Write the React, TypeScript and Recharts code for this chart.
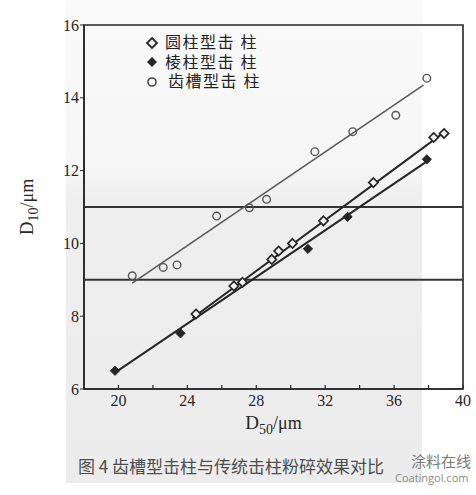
import { ScatterChart, Scatter, XAxis, YAxis, ReferenceLine, ReferenceArea, Legend, Label } from 'recharts'

// 圆柱型击柱 (open diamonds)
const roundX = [24.5, 26.7, 27.2, 28.9, 29.3, 30.1, 31.9, 34.8, 38.3, 38.9]
const roundY = [8.06, 8.83, 8.93, 9.56, 9.79, 10.0, 10.62, 11.67, 12.91, 13.02]
// 棱柱型击柱 (filled diamonds)
const prismX = [19.8, 23.6, 31.0, 33.3, 37.9]
const prismY = [6.5, 7.53, 9.85, 10.73, 12.31]
// 齿槽型击柱 (open circles)
const grooveX = [20.8, 22.6, 23.4, 25.7, 27.6, 28.6, 31.4, 33.6, 36.1, 37.9]
const grooveY = [9.11, 9.34, 9.41, 10.75, 10.98, 11.21, 12.52, 13.07, 13.52, 14.54]

// fitted lines, end points
const roundFitX = [24.3, 38.9]
const roundFitY = [7.95, 13.05]
const prismFitX = [19.8, 37.8]
const prismFitY = [6.45, 12.22]
const grooveFitX = [20.8, 37.7]
const grooveFitY = [8.91, 14.35]

const refLevels = [9, 11]
const xTicks = [20, 22, 24, 26, 28, 30, 32, 34, 36, 38, 40]
const yTicks = [6, 8, 10, 12, 14, 16]
const legendNames = ['圆柱型击 柱', '棱柱型击 柱', '齿槽型击 柱']

const toPoints = (xs: number[], ys: number[]) => xs.map((x, i) => ({ x, y: ys[i] }))

const INK = '#262626'
const SERIF = '"Liberation Serif", "DejaVu Serif", serif'
const CJK = '"Noto Sans CJK SC", sans-serif'
const SERIF_CJK = '"Liberation Serif", "Noto Sans CJK SC", serif'

function diamond(cx: number, cy: number, r: number) {
  return `${cx},${cy - r} ${cx + r},${cy} ${cx},${cy + r} ${cx - r},${cy}`
}

// eslint-disable-next-line @typescript-eslint/no-explicit-any
const OpenDiamond = ({ cx, cy }: any) => (
  <polygon points={diamond(cx, cy, 4.6)} fill="#f2f2f2" stroke={INK} strokeWidth={1.7} />
)
// eslint-disable-next-line @typescript-eslint/no-explicit-any
const FilledDiamond = ({ cx, cy }: any) => (
  <polygon points={diamond(cx, cy, 4.6)} fill={INK} stroke={INK} strokeWidth={1} />
)
// eslint-disable-next-line @typescript-eslint/no-explicit-any
const OpenCircle = ({ cx, cy }: any) => (
  <circle cx={cx} cy={cy} r={3.8} fill="none" stroke="#555" strokeWidth={1.4} />
)
const NoDot = () => <g />

// eslint-disable-next-line @typescript-eslint/no-explicit-any
function XTick({ x, y, payload }: any) {
  const axisY = y - 2
  const v = payload.value
  return (
    <g>
      <line x1={x} x2={x} y1={axisY} y2={axisY - 4} stroke={INK} strokeWidth={1.2} />
      {v % 4 === 0 && (
        <text x={x} y={axisY + 17} textAnchor="middle" fontFamily={SERIF} fontSize={16} fill={INK}>
          {v}
        </text>
      )}
    </g>
  )
}

// eslint-disable-next-line @typescript-eslint/no-explicit-any
function XTitle({ viewBox }: any) {
  const cx = viewBox.x + viewBox.width / 2
  return (
    <text x={cx} y={viewBox.y + 40} textAnchor="middle" fontFamily={SERIF} fontSize={19} fill={INK}>
      D<tspan fontSize={14} dy={5}>50</tspan>
      <tspan dy={-5} fontSize={18}>/μm</tspan>
    </text>
  )
}

// eslint-disable-next-line @typescript-eslint/no-explicit-any
function YTitle({ viewBox }: any) {
  const cx = 33
  const cy = viewBox.y + viewBox.height / 2
  return (
    <text
      x={cx}
      y={cy}
      transform={`rotate(-90 ${cx} ${cy})`}
      textAnchor="middle"
      fontFamily={SERIF}
      fontSize={19}
      fill={INK}
    >
      D<tspan fontSize={14} dy={5}>10</tspan>
      <tspan dy={-5} fontSize={18}>/μm</tspan>
    </text>
  )
}

function LegendBox() {
  const markers = [
    <polygon key="a" points={diamond(7, 7, 5)} fill="#f2f2f2" stroke={INK} strokeWidth={1.8} />,
    <polygon key="b" points={diamond(7, 7, 5)} fill={INK} />,
    <circle key="c" cx={7} cy={7} r={4} fill="none" stroke="#444" strokeWidth={1.6} />,
  ]
  return (
    <div style={{ fontFamily: SERIF_CJK, fontSize: 16, lineHeight: '19.5px', color: '#222' }}>
      {legendNames.map((n, i) => (
        <div key={n} style={{ display: 'flex', alignItems: 'center', height: 19.5 }}>
          <svg width={14} height={14}>{markers[i]}</svg>
          <span style={{ marginLeft: i === 2 ? 9 : 6, letterSpacing: 1.5 }}>{n}</span>
        </div>
      ))}
    </div>
  )
}

export default function App() {
  return (
    <div
      style={{
        position: 'absolute',
        left: 0,
        top: 0,
        width: 476,
        height: 495,
        background: '#ffffff',
        overflow: 'hidden',
      }}
    >
      <div
        style={{
          position: 'absolute',
          left: 66,
          top: 0,
          width: 356,
          height: 483,
          background: 'linear-gradient(#fafafa 0%, #f6f6f6 34%, #eeeeee 42%, #ececec 100%)',
        }}
      />
      <div style={{ position: 'absolute', left: 0, top: 0 }}>
        <ScatterChart width={476} height={495} margin={{ top: 25, right: 13, left: 0, bottom: 0 }}>
          <XAxis
            type="number"
            dataKey="x"
            domain={[18, 40]}
            ticks={xTicks}
            interval={0}
            allowDataOverflow
            height={106}
            tickSize={0}
            tickMargin={2}
            tick={<XTick />}
            axisLine={{ stroke: INK, strokeWidth: 1.6 }}
          >
            <Label content={<XTitle />} />
          </XAxis>
          <YAxis
            type="number"
            dataKey="y"
            domain={[6, 16]}
            ticks={yTicks}
            interval={0}
            allowDataOverflow
            width={84}
            tickSize={4}
            tickMargin={1}
            tick={{ fontFamily: SERIF, fontSize: 16, fill: INK }}
            tickLine={{ stroke: INK }}
            axisLine={{ stroke: INK, strokeWidth: 1.6 }}
          >
            <Label content={<YTitle />} />
          </YAxis>
          <ReferenceArea x1={18} x2={40} y1={6} y2={16} fill="none" stroke={INK} strokeWidth={1.6} />
          {refLevels.map((v) => (
            <ReferenceLine key={v} y={v} stroke="#333" strokeWidth={2} />
          ))}
          <Legend
            layout="horizontal"
            verticalAlign="middle"
            align="center"
            wrapperStyle={{ top: 33, left: 145, width: 'auto' }}
            content={<LegendBox />}
          />
          <Scatter
            data={toPoints(grooveFitX, grooveFitY)}
            line={{ stroke: '#5a5a5a', strokeWidth: 1.6 }}
            shape={<NoDot />}
            legendType="none"
            isAnimationActive={false}
          />
          <Scatter
            data={toPoints(prismFitX, prismFitY)}
            line={{ stroke: INK, strokeWidth: 2 }}
            shape={<NoDot />}
            legendType="none"
            isAnimationActive={false}
          />
          <Scatter
            data={toPoints(roundFitX, roundFitY)}
            line={{ stroke: INK, strokeWidth: 2 }}
            shape={<NoDot />}
            legendType="none"
            isAnimationActive={false}
          />
          <Scatter name="齿槽型击柱" data={toPoints(grooveX, grooveY)} shape={<OpenCircle />} isAnimationActive={false} />
          <Scatter name="棱柱型击柱" data={toPoints(prismX, prismY)} shape={<FilledDiamond />} isAnimationActive={false} />
          <Scatter name="圆柱型击柱" data={toPoints(roundX, roundY)} shape={<OpenDiamond />} isAnimationActive={false} />
        </ScatterChart>
      </div>
      <div
        style={{
          position: 'absolute',
          left: 78,
          top: 455,
          fontFamily: CJK,
          fontSize: 17,
          lineHeight: '22px',
          color: '#4d4d4d',
          whiteSpace: 'nowrap',
        }}
      >
        图 4 齿槽型击柱与传统击柱粉碎效果对比
      </div>
      <div
        style={{
          position: 'absolute',
          left: 411,
          top: 452,
          fontFamily: CJK,
          fontSize: 15,
          lineHeight: '18px',
          color: '#7a7a7a',
          whiteSpace: 'nowrap',
        }}
      >
        涂料在线
      </div>
      <div
        style={{
          position: 'absolute',
          left: 395,
          top: 471,
          fontFamily: '"Open Sans", sans-serif',
          fontSize: 11,
          lineHeight: '13px',
          color: '#8a8a8a',
          whiteSpace: 'nowrap',
        }}
      >
        Coatingol.com
      </div>
    </div>
  )
}
